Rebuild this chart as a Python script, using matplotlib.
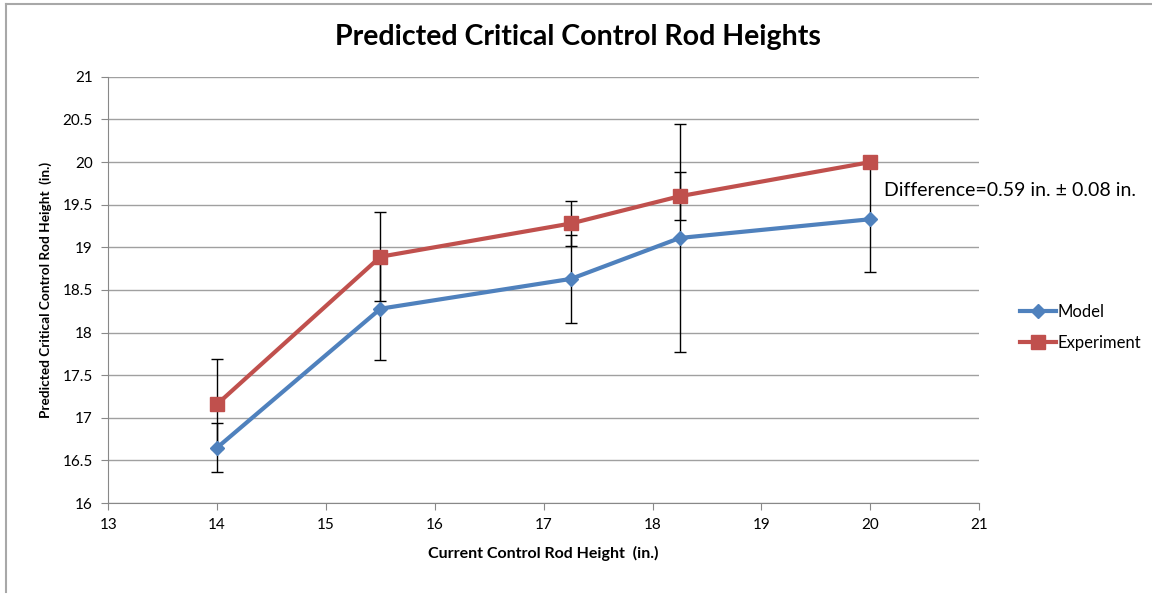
import matplotlib.pyplot as plt
from matplotlib.lines import Line2D

# data
current = [14, 15.5, 17.25, 18.25, 20]
model = [16.65, 18.28, 18.63, 19.11, 19.33]
model_err = [0.29, 0.60, 0.52, 1.34, 0.62]
experiment = [17.16, 18.89, 19.28, 19.60, 20.00]
experiment_err = [0.53, 0.52, 0.26, 0.28, 0.0]

plt.rcParams['font.family'] = ['Lato', 'DejaVu Sans']

fig = plt.figure(figsize=(11.52, 5.96), dpi=100)
ax = fig.add_axes([0.094, 0.156, 0.756, 0.715])

ax.errorbar(current, model, yerr=model_err, color='#4F81BD', lw=3, marker='D', ms=7,
            ecolor='black', elinewidth=1, capsize=4, capthick=1, label='Model', zorder=3)
ax.errorbar(current, experiment, yerr=experiment_err, color='#C0504D', lw=3, marker='s', ms=10,
            ecolor='black', elinewidth=1, capsize=4, capthick=1, label='Experiment', zorder=3)

ax.set_xlim(13, 21)
ax.set_ylim(16, 21)
ax.set_xticks(range(13, 22))
ax.set_yticks([16 + 0.5 * i for i in range(11)])
ax.set_yticklabels(['16', '16.5', '17', '17.5', '18', '18.5', '19', '19.5', '20', '20.5', '21'])
ax.yaxis.grid(True, color='#A0A0A0', lw=1)
ax.set_axisbelow(True)
for s in ['top', 'right']:
    ax.spines[s].set_visible(False)
for s in ['left', 'bottom']:
    ax.spines[s].set_color('#888888')
ax.tick_params(direction='out', length=5, color='#888888', labelsize=11, pad=6)

ax.set_xlabel('Current Control Rod Height  (in.)', fontsize=11.5, fontweight='bold', labelpad=10)
ax.set_ylabel('Predicted Critical Control Rod Height  (in.)', fontsize=9.8, fontweight='bold', labelpad=8)
fig.suptitle('Predicted Critical Control Rod Heights', fontsize=20.5, fontweight='bold', x=0.502, y=0.96)

ax.text(20.13, 19.67, 'Difference=0.59 in. \u00b1 0.08 in.', fontsize=14, va='center')

h, l = ax.get_legend_handles_labels()
h = [x[0] for x in h]
fig.legend(h, l, loc='center left', bbox_to_anchor=(0.872, 0.45), frameon=False,
           fontsize=12, handlelength=2.2, handletextpad=0.1, labelspacing=0.9)

# frame edge (top and left only, as cropped in the reference)
fig.add_artist(Line2D([0.005, 1.0], [0.993, 0.993], transform=fig.transFigure, color='#A8A8A8', lw=1.5))
fig.add_artist(Line2D([0.005, 0.005], [0.007, 0.993], transform=fig.transFigure, color='#A8A8A8', lw=1.5))

fig.savefig('out.png', dpi=100)
